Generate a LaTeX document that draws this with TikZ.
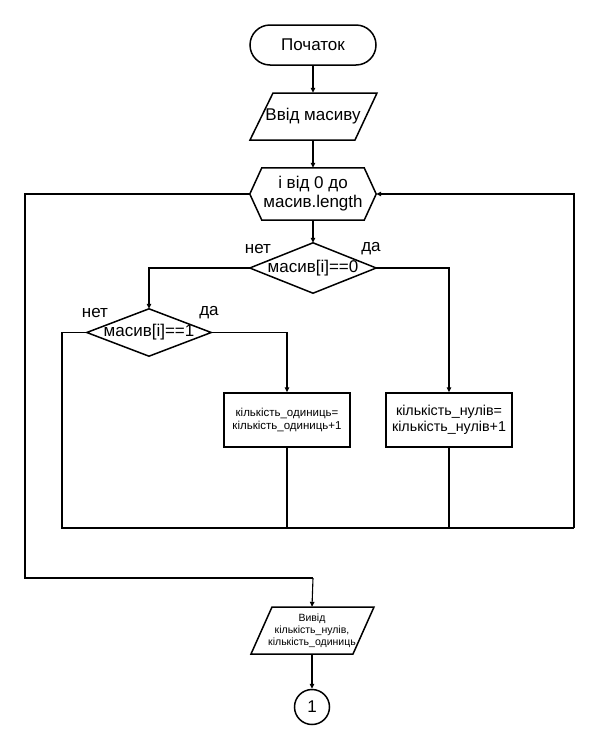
\documentclass[tikz,border=0pt]{standalone}
\usepackage{fontspec}
\setmainfont{Liberation Sans}
\usetikzlibrary{arrows.meta,calc}
\begin{document}
\begin{tikzpicture}[x=1pt,y=-1pt,
  shapeline/.style={line width=1.5pt,line join=miter},
  conn/.style={line width=1.1pt},
  loopline/.style={line width=1.5pt},
  arr/.style={conn,-{Triangle[length=5pt,width=4.5pt]}},
  big/.style={font=\fontsize{17}{19}\selectfont},
  lbl/.style={big,inner sep=0pt},
  holder/.style={inner sep=0pt,align=center}
]
\useasboundingbox[fill=white] (0,0) rectangle (600,750);

% start
\node[holder,big,draw,shapeline,rounded corners=20pt,minimum width=126pt,minimum height=40pt] (start) at (313,45) {Початок};

% input
\node[holder,big,minimum width=126pt,minimum height=47pt] (in) at (313,116.5) {Ввід масиву};
\draw[shapeline] (273,93) -- (377,93) -- (355,140) -- (250,140) -- cycle;

% loop hexagon
\node[holder,big,minimum width=126pt,minimum height=52pt] (loop) at (313,194) {і від 0 до\\масив.length};
\draw[shapeline] (loop.west) -- ([xshift=12pt]loop.north west) -- ([xshift=-12pt]loop.north east) -- (loop.east) -- ([xshift=-12pt]loop.south east) -- ([xshift=12pt]loop.south west) -- cycle;

% decision 1
\node[holder,big,minimum width=126pt,minimum height=50pt] (d1) at (313,268) {масив[i]==0};
\draw[shapeline] (d1.west) -- (d1.north) -- (d1.east) -- (d1.south) -- cycle;
\node[lbl] (d1no) at (258,249) {нет};
\node[lbl] (d1yes) at (371,249) {да};

% decision 2
\node[holder,big,minimum width=124pt,minimum height=47pt] (d2) at (149,332.5) {масив[i]==1};
\draw[shapeline] (d2.west) -- (d2.north) -- (d2.east) -- (d2.south) -- cycle;
\node[lbl] (d2no) at (95,313) {нет};
\node[lbl] (d2yes) at (209,313) {да};

% boxes
\node[holder,draw,shapeline,minimum width=126pt,minimum height=54pt,font=\fontsize{11.5}{13.5}\selectfont] (b1) at (287,420) {кількість\_одиниць=\\кількість\_одиниць+1};
\node[holder,draw,shapeline,minimum width=126pt,minimum height=54pt,font=\fontsize{14.3}{16.5}\selectfont] (b2) at (449,420) {кількість\_нулів=\\кількість\_нулів+1};

% output
\node[holder,minimum width=124pt,minimum height=47pt,font=\fontsize{10.5}{12}\selectfont] (out) at (312,630.5) {Вивід\\кількість\_нулів,\\кількість\_одиниць};
\draw[shapeline] (272,607) -- (374,607) -- (353,654) -- (251,654) -- cycle;

% connector circle
\node[draw,shapeline,circle,minimum size=35pt,inner sep=0pt,big] (c1) at (312,707) {1};

% coordinates
\coordinate (lt) at (25,194);
\coordinate (lb) at (25,578);
\coordinate (lo) at (313,578);
\coordinate (rt) at (574,194);
\coordinate (rb) at (574,528);
\coordinate (ib) at (62,528);
\coordinate (il) at (62,332.5);

% connectors
\draw[arr] (start.south) -- (in.north);
\draw[arr] (in.south) -- (loop.north);
\draw[arr] (loop.south) -- (d1.north);
\draw[arr] (d1.west) -| (d2.north);
\draw[arr] (d1.east) -| (b2.north);
\draw[arr] (d2.east) -| (b1.north);
\draw[conn] (d2.west) -- (il) -- (ib) -- (rb |- ib);
\draw[conn] (b1.south) -- (b1.south |- ib);
\draw[conn] (b2.south) -- (b2.south |- ib);
\draw[loopline] (ib) -- (rb);
\draw[loopline,-{Triangle[length=5pt,width=4.5pt]}] (rb) -- (rt) -- (loop.east);
\draw[loopline] (loop.west) -- (lt) -- (lb) -- (lo);
\draw[arr] (lo) -- (out.north);
\draw[arr] (out.south) -- (c1.north);
\end{tikzpicture}
\end{document}
